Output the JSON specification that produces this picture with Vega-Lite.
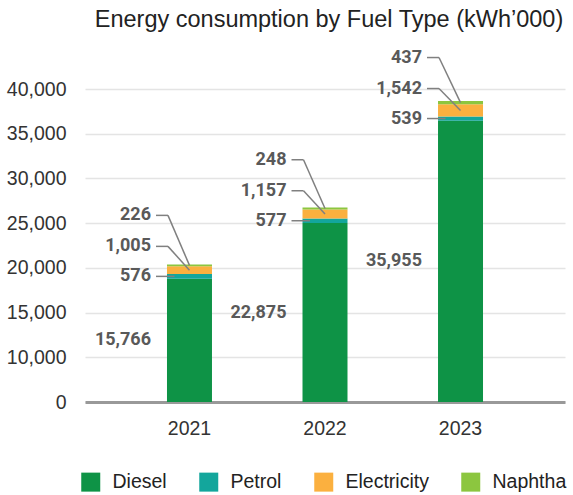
{
  "$schema": "https://vega.github.io/schema/vega-lite/v6.json",
  "width": 480,
  "height": 313,
  "autosize": "none",
  "padding": {"left": 85, "top": 89, "right": 8, "bottom": 93},
  "background": "white",
  "title": {"text": "Energy consumption by Fuel Type (kWh’000)", "fontSize": 23.5, "font": "Liberation Sans", "fontWeight": "normal", "color": "#222222", "anchor": "middle", "frame": "group", "offset": 17, "dx": 4},
  "config": {"view": {"stroke": null}, "font": "Liberation Sans"},
  "data": {"values": [
    {"year": "2021", "fuel": "Diesel", "value": 15766},
    {"year": "2021", "fuel": "Petrol", "value": 576},
    {"year": "2021", "fuel": "Electricity", "value": 1005},
    {"year": "2021", "fuel": "Naphtha", "value": 226},
    {"year": "2022", "fuel": "Diesel", "value": 22875},
    {"year": "2022", "fuel": "Petrol", "value": 577},
    {"year": "2022", "fuel": "Electricity", "value": 1157},
    {"year": "2022", "fuel": "Naphtha", "value": 248},
    {"year": "2023", "fuel": "Diesel", "value": 35955},
    {"year": "2023", "fuel": "Petrol", "value": 539},
    {"year": "2023", "fuel": "Electricity", "value": 1542},
    {"year": "2023", "fuel": "Naphtha", "value": 437}
  ]},
  "transform": [
    {"calculate": "indexof(['Diesel','Petrol','Electricity','Naphtha'], datum.fuel)", "as": "order"},
    {"stack": "value", "groupby": ["year"], "sort": [{"field": "order", "order": "ascending"}], "as": ["v0", "v1"]},
    {"calculate": "(datum.v0 + datum.v1) / 2", "as": "mid"},
    {"calculate": "datum.fuel === 'Petrol' ? datum.mid : 0", "as": "pmid"},
    {"joinaggregate": [{"op": "max", "field": "pmid", "as": "petrolMid"}], "groupby": ["year"]}
  ],
  "layer": [
    {
      "mark": {"type": "bar"},
      "encoding": {
        "x": {"field": "year", "type": "nominal", "scale": {"paddingInner": 0.668, "paddingOuter": 0.605},
          "axis": {"title": null, "labelAngle": 0, "domainColor": "#999999", "domainWidth": 3, "ticks": false, "labelFontSize": 19.5, "labelColor": "#333333", "labelPadding": 17, "grid": false}},
        "y": {"field": "v1", "type": "quantitative", "scale": {"domain": [0, 40000], "nice": false},
          "axis": {"title": null, "values": [0, 5714.2857, 11428.5714, 17142.8571, 22857.1429, 28571.4286, 34285.7143, 40000],
            "labelExpr": "datum.value < 1 ? '0' : format((round(datum.value * 7 / 40000) + 1) * 5000, ',')",
            "domain": false, "ticks": false, "grid": true, "gridColor": "#e4e4e4", "gridWidth": 1.5,
            "labelFontSize": 19.5, "labelColor": "#333333", "labelPadding": 19}},
        "y2": {"field": "v0"},
        "color": {"field": "fuel", "type": "nominal",
          "scale": {"domain": ["Diesel", "Petrol", "Electricity", "Naphtha"], "range": ["#0e9346", "#13a69c", "#fbb03f", "#8cc63f"]},
          "legend": {"orient": "none", "legendX": -4, "legendY": 383, "direction": "horizontal", "title": null, "symbolType": "square", "symbolSize": 361, "symbolStrokeWidth": 0, "symbolOpacity": 1, "labelFontSize": 19.5, "labelColor": "#222222", "labelOffset": 12, "columnPadding": 32, "padding": 0}}
      }
    },
    {
      "transform": [{"filter": "datum.fuel === 'Diesel'"}],
      "mark": {"type": "text", "align": "right", "baseline": "middle", "dx": -38.5, "font": "Roboto", "fontSize": 18, "fontWeight": "bold", "color": "#595959"},
      "encoding": {
        "x": {"field": "year", "type": "nominal", "bandPosition": 0.5},
        "y": {"field": "mid", "type": "quantitative"},
        "text": {"field": "value", "type": "quantitative", "format": ","}
      }
    },
    {
      "transform": [{"filter": "datum.fuel === 'Petrol'"}],
      "mark": {"type": "text", "align": "right", "baseline": "middle", "dx": -38.5, "font": "Roboto", "fontSize": 18, "fontWeight": "bold", "color": "#595959"},
      "encoding": {
        "x": {"field": "year", "type": "nominal", "bandPosition": 0.5},
        "y": {"field": "petrolMid", "type": "quantitative"},
        "text": {"field": "value", "type": "quantitative", "format": ","}
      }
    },
    {
      "transform": [{"filter": "datum.fuel === 'Electricity'"}],
      "mark": {"type": "text", "align": "right", "baseline": "middle", "dx": -38.5, "dy": -30, "font": "Roboto", "fontSize": 18, "fontWeight": "bold", "color": "#595959"},
      "encoding": {
        "x": {"field": "year", "type": "nominal", "bandPosition": 0.5},
        "y": {"field": "petrolMid", "type": "quantitative"},
        "text": {"field": "value", "type": "quantitative", "format": ","}
      }
    },
    {
      "transform": [{"filter": "datum.fuel === 'Naphtha'"}],
      "mark": {"type": "text", "align": "right", "baseline": "middle", "dx": -38.5, "dy": -61, "font": "Roboto", "fontSize": 18, "fontWeight": "bold", "color": "#595959"},
      "encoding": {
        "x": {"field": "year", "type": "nominal", "bandPosition": 0.5},
        "y": {"field": "petrolMid", "type": "quantitative"},
        "text": {"field": "value", "type": "quantitative", "format": ","}
      }
    },
    {
      "transform": [{"filter": "datum.fuel === 'Petrol'"}],
      "mark": {"type": "rule", "color": "#808080", "strokeWidth": 1.5, "xOffset": -33.5, "x2Offset": -15},
      "encoding": {
        "x": {"field": "year", "type": "nominal", "bandPosition": 0.5},
        "x2": {"field": "year", "bandPosition": 0.5},
        "y": {"field": "petrolMid", "type": "quantitative"}
      }
    },
    {
      "transform": [{"filter": "datum.fuel === 'Electricity'"}],
      "mark": {"type": "rule", "color": "#808080", "strokeWidth": 1.5, "xOffset": -33.5, "x2Offset": -21.5, "yOffset": -30, "y2Offset": -30},
      "encoding": {
        "x": {"field": "year", "type": "nominal", "bandPosition": 0.5},
        "x2": {"field": "year", "bandPosition": 0.5},
        "y": {"field": "petrolMid", "type": "quantitative"}
      }
    },
    {
      "transform": [{"filter": "datum.fuel === 'Electricity'"}],
      "mark": {"type": "rule", "color": "#808080", "strokeWidth": 1.5, "xOffset": -21.5, "x2Offset": 0, "yOffset": -30, "y2Offset": 0},
      "encoding": {
        "x": {"field": "year", "type": "nominal", "bandPosition": 0.5},
        "x2": {"field": "year", "bandPosition": 0.5},
        "y": {"field": "petrolMid", "type": "quantitative"},
        "y2": {"field": "mid"}
      }
    },
    {
      "transform": [{"filter": "datum.fuel === 'Naphtha'"}],
      "mark": {"type": "rule", "color": "#808080", "strokeWidth": 1.5, "xOffset": -33.5, "x2Offset": -21.5, "yOffset": -61, "y2Offset": -61},
      "encoding": {
        "x": {"field": "year", "type": "nominal", "bandPosition": 0.5},
        "x2": {"field": "year", "bandPosition": 0.5},
        "y": {"field": "petrolMid", "type": "quantitative"}
      }
    },
    {
      "transform": [{"filter": "datum.fuel === 'Naphtha'"}],
      "mark": {"type": "rule", "color": "#808080", "strokeWidth": 1.5, "xOffset": -21.5, "x2Offset": 0, "yOffset": -61, "y2Offset": 0},
      "encoding": {
        "x": {"field": "year", "type": "nominal", "bandPosition": 0.5},
        "x2": {"field": "year", "bandPosition": 0.5},
        "y": {"field": "petrolMid", "type": "quantitative"},
        "y2": {"field": "mid"}
      }
    }
  ]
}
